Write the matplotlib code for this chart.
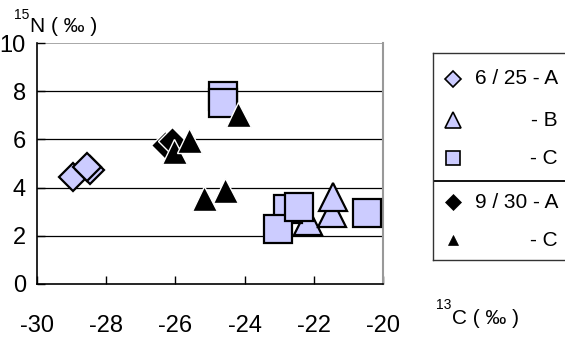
import matplotlib
matplotlib.use("Agg")
import matplotlib.pyplot as plt

plt.rcParams['font.family'] = ['Liberation Sans', 'DejaVu Sans']
plt.rcParams['axes.unicode_minus'] = False

# 6/25 sampling (light lavender markers)
a625_x = [-28.97, -28.47, -28.55]
a625_y = [4.45, 4.75, 4.86]
b625_x = [-22.17, -21.47, -21.45]
b625_y = [2.60, 2.94, 3.61]
c625_x = [-24.62, -24.62, -22.74, -23.03, -22.43, -20.47]
c625_y = [7.82, 7.50, 3.11, 2.28, 3.19, 2.95]

# 9/30 sampling (black markers)
a930_x = [-26.30, -26.10]
a930_y = [5.75, 5.95]
c930_x = [-26.04, -25.60, -24.20, -25.17, -24.56]
c930_y = [5.50, 5.98, 7.05, 3.57, 3.90]

x_ticks = [-30, -28, -26, -24, -22, -20]
y_ticks = [0, 2, 4, 6, 8, 10]

lav = '#CCCCFF'

fig = plt.figure(figsize=(5.65, 3.38), dpi=100)
ax = fig.add_axes([37 / 565, 54 / 338, 346 / 565, 241 / 338])

# horizontal gridlines
for yv in y_ticks[1:-1]:
    ax.axhline(yv, color='black', lw=0.9, zorder=1)
ax.axhline(10, color='#999999', lw=1.2, zorder=1)

ax.plot(a625_x, a625_y, 'D', ms=14.5, mfc=lav, mec='black', mew=1.6, ls='none', zorder=3)
ax.plot(b625_x, b625_y, '^', ms=20, mfc=lav, mec='black', mew=1.6, ls='none', zorder=4)
ax.plot(c625_x, c625_y, 's', ms=20, mfc=lav, mec='black', mew=1.6, ls='none', zorder=5)
ax.plot(a930_x, a930_y, 'D', ms=14, mfc='black', mec='white', mew=1.0, ls='none', zorder=6)
ax.plot(c930_x, c930_y, '^', ms=18, mfc='black', mec='white', mew=1.0, ls='none', zorder=7)

ax.set_xlim(-30, -20)
ax.set_ylim(0, 10)
ax.set_xticks(x_ticks)
ax.set_xticklabels([str(v) for v in x_ticks])
ax.set_yticks(y_ticks)
ax.set_yticklabels([str(v) for v in y_ticks], va='top')
ax.tick_params(axis='x', direction='in', length=6, width=1, labelsize=17, pad=22)
ax.tick_params(axis='y', direction='in', length=6, width=1, labelsize=17, pad=8)
for lbl in ax.get_yticklabels():
    lbl.set_verticalalignment('center_baseline')
ax.spines['left'].set_linewidth(1.2)
ax.spines['bottom'].set_linewidth(1.2)
ax.spines['top'].set_visible(False)
ax.spines['right'].set_color('#999999')
ax.spines['right'].set_linewidth(1.5)

# axis titles
fig.text(14 / 565, 1 - 19 / 338, '15', fontsize=10, va='baseline')
fig.text(30 / 565, 1 - 32 / 338, 'N ( ‰ )', fontsize=15, va='baseline')
fig.text(436 / 565, 1 - 309 / 338, '13', fontsize=10, va='baseline')
fig.text(452 / 565, 1 - 324 / 338, 'C ( ‰ )', fontsize=15, va='baseline')

# legend box
lg = fig.add_axes([433 / 565, 78 / 338, 140 / 565, 207 / 338])
lg.set_xlim(433, 573)
lg.set_ylim(260, 53)
lg.set_xticks([])
lg.set_yticks([])
for s in lg.spines.values():
    s.set_color('#333333')
    s.set_linewidth(1.0)
lg.axhline(181, color='black', lw=1.3)

entries = [
    ('D', 8, lav, 'black', 1.2, '6 / 25 - A', 79),
    ('^', 11, lav, 'black', 1.2, '- B', 120),
    ('s', 10, lav, 'black', 1.2, '- C', 158),
    ('D', 8.5, 'black', 'black', 0.5, '9 / 30 - A', 202),
    ('^', 7, 'black', 'black', 0.5, '- C', 240),
]
for m, size, fc, ec, ew, label, yp in entries:
    lg.plot([453], [yp], m, ms=size, mfc=fc, mec=ec, mew=ew)
    lg.text(558, yp, label, fontsize=15, ha='right', va='center')

fig.savefig('out.png', dpi=100)
